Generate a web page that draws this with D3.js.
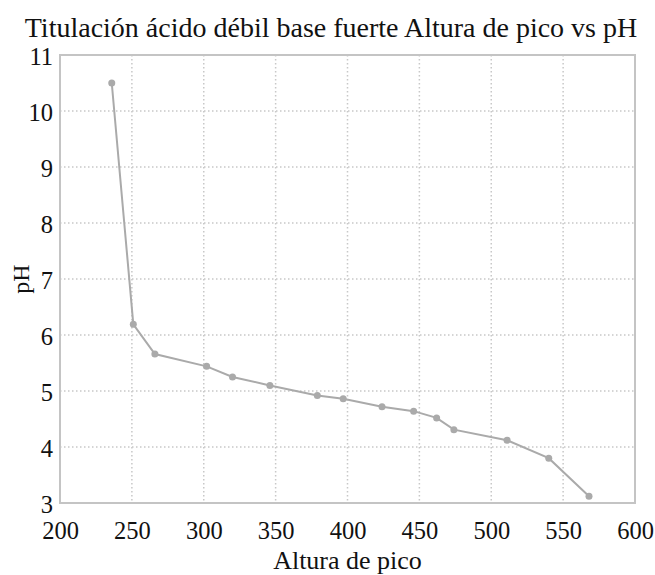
<!DOCTYPE html>
<html>
<head>
<meta charset="utf-8">
<script src="https://cdn.jsdelivr.net/npm/d3@7/dist/d3.min.js"></script>
<style>
  html, body { margin: 0; padding: 0; background: #fff; }
  svg { display: block; }
  text { font-family: "Liberation Serif", "Times New Roman", serif; fill: #111; }
</style>
</head>
<body>
<svg id="chart" width="655" height="575"></svg>
<script>
const alturaPico = [236, 251, 266, 302, 320, 346, 379, 397, 424, 446, 462, 474, 511, 540, 568];
const pH = [10.5, 6.19, 5.66, 5.44, 5.25, 5.10, 4.92, 4.86, 4.72, 4.64, 4.52, 4.31, 4.12, 3.80, 3.12];
const xTicks = [200, 250, 300, 350, 400, 450, 500, 550, 600];
const yTicks = [3, 4, 5, 6, 7, 8, 9, 10, 11];
const title = "Titulación ácido débil base fuerte Altura de pico vs pH";
const xLabel = "Altura de pico";
const yLabel = "pH";

const W = 655, H = 575;
const m = { left: 60, right: 20, top: 55, bottom: 72 };
const svg = d3.select("#chart");

const x = d3.scaleLinear().domain([200, 600]).range([m.left, W - m.right]);
const y = d3.scaleLinear().domain([3, 11]).range([H - m.bottom, m.top]);

// grid
const grid = svg.append("g");
grid.selectAll("line.gx").data(xTicks.slice(1, -1)).enter().append("line")
  .attr("x1", d => x(d)).attr("x2", d => x(d))
  .attr("y1", y(11)).attr("y2", y(3))
  .attr("stroke", "#c8c8c8").attr("stroke-width", 1.5).attr("stroke-dasharray", "1.5,2.5");
grid.selectAll("line.gy").data(yTicks.slice(1, -1)).enter().append("line")
  .attr("y1", d => y(d)).attr("y2", d => y(d))
  .attr("x1", x(200)).attr("x2", x(600))
  .attr("stroke", "#c8c8c8").attr("stroke-width", 1.5).attr("stroke-dasharray", "1.5,2.5");

// frame
svg.append("rect")
  .attr("x", x(200)).attr("y", y(11))
  .attr("width", x(600) - x(200)).attr("height", y(3) - y(11))
  .attr("fill", "none").attr("stroke", "#c4c4c4").attr("stroke-width", 2);

// axes
const xAxis = svg.append("g").attr("transform", `translate(0,${y(3)})`)
  .call(d3.axisBottom(x).tickValues(xTicks).tickSize(0).tickPadding(19).tickFormat(d3.format("d")));
xAxis.select(".domain").remove();
xAxis.selectAll("text").style("font-size", "24.5px").attr("dy", "0.71em").attr("fill", "#111");

const yAxis = svg.append("g").attr("transform", `translate(${x(200)},0)`)
  .call(d3.axisLeft(y).tickValues(yTicks).tickSize(0).tickPadding(7).tickFormat(d3.format("d")));
yAxis.select(".domain").remove();
yAxis.selectAll("text").style("font-size", "24.5px").attr("dy", "0.4em").attr("fill", "#111");

// line + points
const pts = alturaPico.map((v, i) => [v, pH[i]]);
svg.append("path").datum(pts)
  .attr("d", d3.line().x(d => x(d[0])).y(d => y(d[1])))
  .attr("fill", "none").attr("stroke", "#aaaaaa").attr("stroke-width", 2);
svg.selectAll("circle.pt").data(pts).enter().append("circle")
  .attr("cx", d => x(d[0])).attr("cy", d => y(d[1])).attr("r", 3.5)
  .attr("fill", "#aaaaaa");

// title & labels
svg.append("text").attr("x", 331).attr("y", 37).attr("text-anchor", "middle")
  .style("font-size", "28px").text(title);
svg.append("text").attr("x", (x(200) + x(600)) / 2).attr("y", 569).attr("text-anchor", "middle")
  .style("font-size", "26px").text(xLabel);
svg.append("text").attr("transform", `translate(29,${(y(3) + y(11)) / 2}) rotate(-90)`)
  .attr("text-anchor", "middle").style("font-size", "24px").text(yLabel);
</script>
</body>
</html>
